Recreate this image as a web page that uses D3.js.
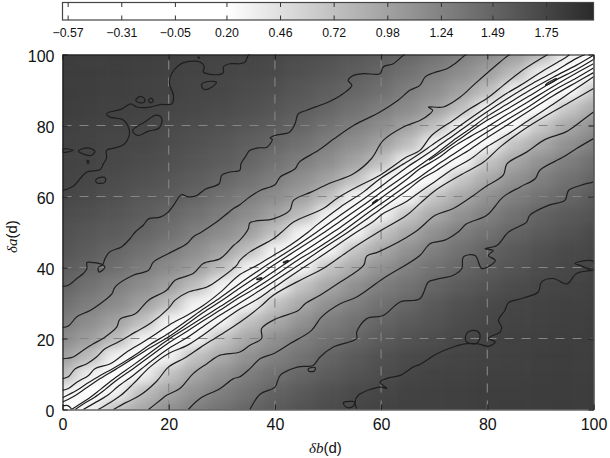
<!DOCTYPE html>
<html>
<head>
<meta charset="utf-8">
<script src="https://cdn.jsdelivr.net/npm/d3@7"></script>
<style>
  html, body { margin: 0; padding: 0; background: #fff; }
  svg { display: block; }
  text { font-family: "Liberation Sans", sans-serif; fill: #111; }
</style>
</head>
<body>
<svg width="610" height="458"></svg>
<script>
// -------------------------------------------------------------
// data
const gridB = [0,5,10,15,20,25,30,35,40,45,50,55,60,65,70,75,80,85,90,95,100];
const gridA = [0,5,10,15,20,25,30,35,40,45,50,55,60,65,70,75,80,85,90,95,100];

// one row per gridA value, one column per gridB value
const heatRows = [
  [-.40,.30,.72,.93,1.12,1.27,1.38,1.49,1.57,1.64,1.70,1.74,1.77,1.79,1.79,1.80,1.81,1.82,1.82,1.83,1.83],
  [.32,-.38,.30,.74,.95,1.13,1.27,1.38,1.50,1.58,1.65,1.71,1.75,1.78,1.79,1.80,1.81,1.81,1.82,1.82,1.83],
  [.78,.33,-.39,.30,.71,.94,1.11,1.28,1.39,1.48,1.56,1.63,1.69,1.74,1.77,1.78,1.80,1.80,1.81,1.82,1.82],
  [1.00,.76,.30,-.40,.30,.73,.92,1.12,1.26,1.37,1.49,1.58,1.65,1.71,1.74,1.76,1.78,1.79,1.81,1.82,1.82],
  [1.17,1.01,.77,.32,-.41,.28,.70,.94,1.13,1.27,1.39,1.47,1.57,1.64,1.69,1.74,1.77,1.79,1.80,1.81,1.82],
  [1.29,1.15,.99,.74,.30,-.42,.28,.72,.91,1.11,1.28,1.38,1.49,1.56,1.63,1.70,1.74,1.76,1.78,1.80,1.81],
  [1.40,1.28,1.17,1.00,.76,.31,-.44,.27,.70,.92,1.12,1.26,1.39,1.48,1.58,1.65,1.71,1.75,1.77,1.79,1.80],
  [1.50,1.38,1.27,1.15,.99,.74,.30,-.45,.27,.71,.93,1.13,1.28,1.37,1.49,1.57,1.64,1.70,1.74,1.76,1.79],
  [1.56,1.49,1.40,1.29,1.16,1.01,.75,.30,-.47,.27,.70,.92,1.11,1.26,1.38,1.48,1.56,1.63,1.70,1.74,1.76],
  [1.62,1.55,1.48,1.39,1.28,1.15,.98,.74,.29,-.46,.26,.69,.93,1.12,1.27,1.39,1.50,1.58,1.65,1.71,1.75],
  [1.66,1.60,1.56,1.49,1.40,1.27,1.16,1.00,.73,.29,-.48,.27,.70,.92,1.13,1.28,1.38,1.49,1.57,1.64,1.71],
  [1.70,1.66,1.61,1.55,1.48,1.39,1.28,1.15,.98,.75,.30,-.46,.28,.69,.93,1.11,1.26,1.39,1.50,1.58,1.64],
  [1.74,1.71,1.66,1.60,1.56,1.49,1.38,1.27,1.15,.99,.74,.29,-.47,.27,.70,.92,1.12,1.27,1.38,1.48,1.57],
  [1.76,1.74,1.70,1.65,1.61,1.55,1.48,1.39,1.27,1.14,.98,.73,.30,-.49,.26,.68,.91,1.11,1.26,1.38,1.49],
  [1.77,1.76,1.73,1.70,1.66,1.61,1.55,1.49,1.38,1.28,1.15,.97,.74,.30,-.47,.25,.69,.93,1.12,1.27,1.40],
  [1.78,1.77,1.75,1.74,1.70,1.65,1.60,1.54,1.48,1.39,1.27,1.14,.99,.75,.29,-.48,.25,.70,.91,1.11,1.26],
  [1.80,1.78,1.77,1.75,1.72,1.69,1.65,1.60,1.55,1.49,1.38,1.27,1.15,.98,.74,.30,-.46,.24,.68,.92,1.12],
  [1.81,1.80,1.78,1.77,1.75,1.73,1.70,1.66,1.61,1.55,1.48,1.39,1.28,1.16,1.00,.75,.32,-.44,.22,.66,.90],
  [1.82,1.81,1.80,1.78,1.77,1.75,1.74,1.70,1.66,1.60,1.54,1.48,1.40,1.28,1.15,.98,.76,.33,-.42,.20,.63],
  [1.82,1.82,1.81,1.80,1.78,1.77,1.75,1.74,1.71,1.66,1.61,1.55,1.49,1.38,1.27,1.15,1.00,.77,.34,-.40,.22],
  [1.83,1.82,1.82,1.81,1.80,1.78,1.77,1.76,1.74,1.70,1.66,1.60,1.55,1.48,1.38,1.27,1.16,1.01,.78,.36,-.38]
];

const barTicks  = [-0.57,-0.31,-0.05,0.20,0.46,0.72,0.98,1.24,1.49,1.75];
const axisTicks = [0,20,40,60,80,100];
const gridTicks = [20,40,60,80];

// contour traces as [b, a], upper side of the ridge first
const upper175 = [[0,61.7],[1.4,62.4],[2.4,63.4],[3.6,65.5],[4.6,66.9],[7.1,67.6],[7.7,69.2],[8.3,70.8],[8.3,73],[9.9,73.7],[11.5,74.6],[12.5,76.8],[12.5,79.1],[11.5,81.5],[8.9,82.4],[8.3,83.3],[8.9,83.8],[11.1,84.6],[12.8,86.1],[14,85.2],[16.5,85.2],[18.4,85.9],[20.6,86.1],[20.9,88.5],[20.2,91.3],[20.2,93.2],[21.2,96],[22.8,97.7],[25.9,97.9],[26.7,96.5],[26.5,95.1],[29,94.3],[30.3,94.9],[30.3,96.5],[31.5,97.4],[33.4,97.4],[34.4,97.9],[35,99.8],[35.3,100]];
const upper149 = [[0,34.7],[1.1,35],[2.7,36.9],[3.9,38.3],[4.6,39.7],[4.6,41.4],[5.8,41.4],[7.4,40.9],[8,40.1],[6.9,38.7],[6.7,39.9],[7.6,40.9],[8,42.5],[8.9,44.4],[11.1,45.8],[12.7,48.1],[13.7,50],[15.2,51.9],[16.2,53.7],[18.4,54.2],[19.9,55.6],[20.9,57.5],[22.4,60.5],[23.7,59.9],[25.3,60.3],[26.8,62],[29.5,63.6],[30,66],[31.5,66.9],[33.4,67.4],[33.6,69.2],[34.4,71.1],[35.3,73],[36.9,73.7],[38.5,73.9],[39.5,76.1],[39.1,76.5],[40,77.2],[42.8,78.2],[43.8,80.5],[44.4,83.3],[46,84.3],[48.5,85.7],[50.1,86.6],[52.9,89],[54.5,91.3],[53.8,92.7],[54.5,93.9],[56.7,94.6],[59.8,94.6],[60.4,96.5],[62.3,97.4],[64.2,99.8],[64.5,100]];
const upper124 = [[0,23.1],[1.1,23.5],[2.7,26.1],[5.2,27.9],[7.1,29.8],[9.3,32.6],[9.9,34.5],[13.3,37.8],[16.2,39.2],[17.1,41.5],[19.9,43.9],[23.4,46.7],[24.6,48.6],[26.2,50],[29,52.8],[30.6,54.7],[32.2,56.6],[33.4,57.7],[35.3,59.9],[37.2,61.7],[40,63.3],[41,65.5],[43.8,67.8],[44.6,69.7],[48.2,73],[51,76.1],[54.8,80],[59.8,83.8],[63.2,87.1],[65.4,89.9],[67.3,91.3],[68.3,93.7],[69.8,94.8],[72.4,96],[73.9,97.4],[75.8,99.8],[76.1,100]];
const upper098 = [[0,14.3],[2,14.8],[3.9,16.7],[5.8,18.5],[7.7,20.1],[10.2,23.2],[10.8,25.4],[13.7,27],[16.2,30.8],[19.6,33.6],[21.2,36.4],[24.6,38.3],[26.5,41.1],[29.7,42.5],[32.2,46.2],[33.4,47.7],[35,50.9],[35.3,52.6],[39.7,53.7],[42.8,56.1],[43.5,58.9],[46.9,61.3],[50.1,63.6],[54.8,66.4],[58.2,70.7],[60.4,75.8],[64.2,79.6],[67.3,81.4],[69.2,83.3],[69.7,84.3],[68.9,85.2],[71.7,85.2],[74.9,88],[77.7,91.8],[82.4,97.9],[84,99.8],[84.3,100]];
const upper072 = [[0,8.7],[1.1,9.2],[2.4,11.5],[4.6,12.9],[6.4,14.8],[8,17.1],[10.5,19],[13.7,21.8],[16.5,24.2],[19.9,28.4],[21.2,30.8],[23.7,33.1],[27.2,34.5],[29.7,36.9],[32.8,40.6],[33.4,42],[35.3,44.4],[39.7,48.1],[41.3,50],[43.5,52.8],[49.1,56.6],[51.6,59.4],[54.8,62.2],[59.8,66],[64.8,71.1],[67.3,73],[69.5,77.2],[73.6,81.5],[76.7,84.7],[79.9,87.6],[83,91.3],[86.2,95.1],[90.6,99.3],[91.4,100]];
const upper046 = [[0,5.4],[1.1,5.9],[2.7,7.7],[4.9,9.6],[6.1,11.5],[9,12.9],[12.1,16.2],[15.2,19],[17.7,21.4],[20.2,23.9],[23.4,26.5],[26.5,29.3],[29.7,33],[33.4,38],[36.6,40.6],[39.7,43.4],[42.8,46.2],[46.3,50],[47.9,52],[52.3,57],[56.7,61.3],[59.8,65],[64.8,69.7],[67.3,72.1],[69.5,74.4],[73.6,78.6],[76.7,81.9],[79.9,85.2],[83.6,89],[86.2,91.3],[90.6,95.5],[94.9,99.3],[95.5,100]];
const upper020 = [[0,3.3],[2.7,5.4],[4.6,7.3],[7.1,9.6],[9.6,11.6],[13.3,15],[16.5,18.3],[20,21.5],[23.4,25],[26.5,28.3],[29.7,31.5],[33.4,35.5],[36.6,38.8],[39.7,41.9],[44.2,46.2],[47.9,50],[52.3,54.7],[56.7,59.3],[60.4,63.3],[64.8,68.2],[67.3,70.65],[70.5,73.9],[73.6,77.2],[76.7,80.5],[79.9,83.8],[83.6,87.4],[88,91.4],[92.4,95],[96.8,98.9],[98.4,100]];
const upperM05 = [[0,2.1],[2,3.6],[4.6,6.2],[7.1,8.7],[10,11.3],[13.3,14.4],[16.5,17.4],[20,20.5],[23.4,24],[26.5,27.3],[29.7,30.4],[33.4,34.2],[36.6,37.4],[39.7,40.6],[44.2,45],[49.4,50],[52.3,53],[56.7,57.6],[60.4,61.6],[64.8,66.2],[67.3,68.8],[70.5,72.2],[73.6,75.8],[76.7,79],[79.9,82.5],[83.6,85.9],[88,89.9],[92.4,93.6],[96.8,97],[100,99.8]];
const cornerM31 = [[0,1],[1,1.1],[1.5,0.5],[1.7,0]];
const upperM31 = [[69,70.2],[72,73.2],[76.7,78.2],[79.9,81.4],[83.6,84.5],[88,88.4],[92.4,92.4],[96.8,95.8],[100,98.6]];

const lowerM05 = [[1.7,0],[3,1.3],[5,3.2],[7.1,5.6],[10,9],[13.3,12.5],[16.5,16],[20,19.8],[23.4,23],[26.5,26],[29.7,29],[33.4,32.6],[36.6,35.7],[39.7,38.8],[44.2,43.3],[51,50],[52.3,51.3],[56.7,56],[60.4,60],[64.8,64.8],[67.3,67.8],[70.5,70.6],[73.6,74],[76.7,76.8],[79.9,79.5],[83.6,83],[88,87],[92.4,91],[96.8,94.8],[100,97.4]];
const lower020 = [[2.4,0],[4,1.6],[6,3.4],[8,5.6],[10,8],[13.3,11.5],[16.5,15],[20,18.8],[23.4,22],[26.5,25],[29.7,28],[33.4,31.6],[36.6,34.4],[39.7,37.4],[44.2,42],[47,44.5],[52.6,50],[56.7,54.5],[60.4,58.4],[64.8,63],[67.3,65.5],[70.5,68.9],[73.6,71.9],[76.7,75],[79.9,78.1],[83.6,81.5],[88,85.5],[92.4,89.8],[96.8,93.4],[100,96.2]];
const lower046 = [[3.9,0],[6,1.8],[8.5,4],[10.4,6.4],[13.3,9.6],[16.5,13.4],[20,17.2],[23.4,20.2],[26.5,23.4],[29.7,26.6],[33.4,30],[36.6,33],[39.7,36],[44.2,40.4],[48,44.3],[53.8,50],[56.7,53],[60.4,57],[64.8,61.6],[67.3,64.6],[70.5,67.4],[73.6,70.4],[76.7,73.2],[79.9,76.5],[83.6,80],[88,84.2],[92.4,88.4],[96.8,92.2],[100,94.9]];
const lower072 = [[6.7,0],[9,2],[11,4],[13.3,7.2],[16.5,12],[20,15.8],[23.4,18],[26.5,21],[29.7,24.5],[33.4,28.3],[36.6,31],[39.7,34.2],[44.2,38.8],[48,42.5],[55.4,50],[58.2,52.6],[60.4,55.2],[64.8,58.6],[67.3,61.3],[70.5,64.6],[73.6,67.8],[76.7,70.4],[79.9,74],[83.6,77.3],[88,81.7],[92.4,86],[96.8,90.5],[100,93.7]];
const lower098 = [[9.6,0],[12,2],[14.6,4],[17.7,7.9],[20,12],[23,14.5],[26,17.5],[29.7,21],[33.4,24.6],[37.2,28.9],[39.7,32.2],[45.4,36.9],[49.1,39.7],[54.5,45.3],[59.5,50],[64.8,54.7],[67.3,58],[70.2,61.7],[74.9,66],[79.3,69.7],[82.4,73.9],[86.2,78.2],[91.2,82.9],[95.6,86.6],[100,90.4]];
const lower124 = [[16.2,0],[18.4,2.6],[19.6,4],[22.1,5.9],[24.6,10.1],[27.2,12.9],[29.7,15.3],[33.4,16.2],[35.3,18.1],[37.5,20],[37.5,22.8],[40,25.4],[44.4,27.9],[45.7,29.8],[48.5,32.2],[52.3,35.9],[56.7,40.6],[57.3,43.2],[59.5,44.4],[66.4,50],[70.2,54.7],[73.6,56.6],[77.4,60.3],[79.6,62.7],[83,66],[83.7,69.2],[87.4,72.5],[90.9,76.1],[94,77.7],[95.3,78.6],[97.5,81],[100,83.8]];
const lower149 = [[23.7,0],[25.9,3.1],[29.7,5.9],[32.2,8.7],[33.4,9.2],[35.3,11.5],[37.2,14.3],[39.7,15.7],[42.8,18.5],[46.9,22.3],[48.8,26.1],[52.3,29.8],[55.4,31.7],[60.4,36.9],[67.3,43.4],[69.2,46.7],[72,47.7],[74.5,50],[76.1,52.3],[79.9,54.7],[83,59.9],[86.2,62.7],[89,65],[89.9,67.4],[94.3,71.1],[96.8,73.5],[100,76.3]];
const lower175a = [[35.3,0],[37.2,4.3],[40,6.3],[41,9.6],[44.4,12],[47.2,12.4],[48.5,14.8],[51,17.6],[55.4,20],[55.4,21.8],[57.3,25.6],[60.4,26.5],[63.6,30.3],[67.3,31.2],[68.9,35.9],[70.2,36.6],[73.6,37.8],[75.2,39.7],[75.5,43],[77.7,43.4],[79,39.7],[81.5,42],[80.2,43.4],[81.1,44.8],[79.6,45.3],[81.8,46.2],[84,50],[87.4,52.8],[88,54.7],[91.5,57.5],[94.6,58.9],[95.3,61.7],[97.5,63.1],[100,64.1]];
const lower175b = [[55.4,0.2],[55.1,2.1],[55.7,4],[59.8,6.3],[61.1,5.9],[59.8,7.7],[61.4,8.9],[63.6,9.6],[66.1,12],[67.3,12.7],[70.5,15.7],[73.6,17.6],[75.8,18.5],[78.3,18.5],[80.2,17.8],[81.5,19],[80.2,20.1],[82.4,21.8],[82.7,23.2],[82.1,25.1],[83.3,27.9],[84,30.1],[86.8,31.4],[89.6,33.1],[90.2,35.9],[92.4,36.9],[95,35.4],[96.8,38.3],[100,39.2]];

const openLines = [upper175,upper149,upper124,upper098,upper072,upper046,upper020,upperM05,cornerM31,upperM31,
                   lowerM05,lower020,lower046,lower072,lower098,lower124,lower149,lower175a,lower175b];

// small closed contours
const loops = [
  [[13.8,87.1],[14.6,88.2],[15.4,87.6],[15.4,86.6],[14.6,86.4]],
  [[16.2,87.1],[16.7,87.7],[17.1,86.9],[16.6,86.4]],
  [[13.2,78.6],[15.5,81],[17.7,82.9],[18.7,81.9],[18.2,79.3],[16.2,78.4],[14.1,77.2]],
  [[3,72.8],[4.6,73.7],[6.1,72.8],[5.5,71.6],[4.2,71.8]],
  [[0,73.4],[2,73],[0,72.5]],
  [[4.6,70.2],[5,69.9],[4.8,69.2]],
  [[6.3,64.8],[7.1,65.4],[8.1,65.2],[7.9,63.9],[6.4,63.9]],
  [[26.2,91.6],[27.5,92.4],[29,92.2],[28.1,90.8],[26.6,90.2]],
  [[25.5,99.2],[25.8,99.2],[25.7,98.9]],
  [[46.3,11.5],[47.6,11.8],[47.4,10.8],[46.4,10.8]],
  [[52.9,1.9],[55.1,2.1],[54.5,0.7],[53.4,0.7]],
  [[76,19.2],[76.1,21.4],[77.4,22.3],[78.5,21.6],[78.5,19.5],[77.7,18.5]],
  [[96.5,41.1],[97.5,41.7],[100,41.7],[100,39.2],[97.5,40.6]],
  [[36.6,36.6],[37.5,36.9],[37.5,37.1],[36.6,36.8]],
  [[41.6,41.3],[42.5,41.8],[42.5,42],[41.6,41.5]],
  [[58.4,58],[59.3,58.9],[59.3,59.1],[58.4,58.2]],
  [[91,91.3],[93,93],[93,93.2],[91,91.5]]
];

// -------------------------------------------------------------
const plot = { left: 62.5, right: 593.5, top: 54.5, bottom: 409.5 };
const bar  = { top: 2.5, bottom: 20 };
const svg  = d3.select('svg');

const x = d3.scaleLinear().domain([0, 100]).range([plot.left, plot.right]);
const y = d3.scaleLinear().domain([0, 100]).range([plot.bottom, plot.top]);
const barX = d3.scaleLinear().domain([-0.595, 1.98]).range([plot.left, plot.right]);
const gray = d3.scaleLinear().domain([0.2, 1.98]).range(['#ffffff', '#2a2a2a']).clamp(true);

const defs = svg.append('defs');
defs.append('clipPath').attr('id', 'plot-clip').append('rect')
  .attr('x', plot.left).attr('y', plot.top)
  .attr('width', plot.right - plot.left).attr('height', plot.bottom - plot.top);

defs.append('filter').attr('id', 'smooth')
  .attr('filterUnits', 'userSpaceOnUse')
  .attr('x', 0).attr('y', 0).attr('width', 680).attr('height', 520)
  .attr('color-interpolation-filters', 'sRGB')
  .append('feGaussianBlur').attr('stdDeviation', '8 5.5');

const barGrad = defs.append('linearGradient').attr('id', 'bar-grad');
barGrad.append('stop').attr('offset', (0.2 + 0.595) / (1.98 + 0.595)).attr('stop-color', gray(0.2));
barGrad.append('stop').attr('offset', 1).attr('stop-color', gray(1.98));

drawHeat();
drawGrid();
drawContours();
drawAxes();
drawColorbar();
drawLabels();

// -------------------------------------------------------------
function drawHeat() {
  const stepX = x(5) - x(0);
  const stepY = y(0) - y(5);
  const pad = 40; // outer cells run on past the frame so the blur has no edge

  const cells = [];
  heatRows.forEach((row, i) => row.forEach((v, j) => cells.push({ i, j, v })));

  svg.append('g').attr('clip-path', 'url(#plot-clip)')
    .append('g').attr('filter', 'url(#smooth)')
    .selectAll('rect').data(cells).enter().append('rect')
    .attr('x', d => x(gridB[d.j]) - stepX / 2 - (d.j === 0 ? pad : 0))
    .attr('y', d => y(gridA[d.i]) - stepY / 2 - (d.i === gridA.length - 1 ? pad : 0))
    .attr('width', d => stepX + 0.5 + (d.j === 0 || d.j === gridB.length - 1 ? pad : 0))
    .attr('height', d => stepY + 0.5 + (d.i === 0 || d.i === gridA.length - 1 ? pad : 0))
    .attr('fill', d => gray(d.v));
}

// -------------------------------------------------------------
function drawGrid() {
  const g = svg.append('g')
    .attr('stroke', '#858585').attr('stroke-width', 1.1)
    .attr('stroke-dasharray', '9 8').attr('fill', 'none');

  g.selectAll('.gv').data(gridTicks).enter().append('line').attr('class', 'gv')
    .attr('x1', d => x(d)).attr('x2', d => x(d))
    .attr('y1', plot.bottom).attr('y2', plot.top);

  g.selectAll('.gh').data(gridTicks).enter().append('line').attr('class', 'gh')
    .attr('y1', d => y(d)).attr('y2', d => y(d))
    .attr('x1', plot.left).attr('x2', plot.right);
}

// -------------------------------------------------------------
function drawContours() {
  const line = d3.line().x(d => x(d[0])).y(d => y(d[1])).curve(d3.curveCatmullRom.alpha(0.5));
  const loop = d3.line().x(d => x(d[0])).y(d => y(d[1])).curve(d3.curveCatmullRomClosed.alpha(0.5));

  const g = svg.append('g').attr('clip-path', 'url(#plot-clip)')
    .attr('fill', 'none').attr('stroke', '#1e1e1e').attr('stroke-width', 1.2);

  g.selectAll('.open').data(openLines).enter().append('path').attr('class', 'open').attr('d', line);
  g.selectAll('.loop').data(loops).enter().append('path').attr('class', 'loop').attr('d', loop);
}

// -------------------------------------------------------------
function styleAxis(g) {
  g.select('.domain').attr('stroke', '#1a1a1a').attr('stroke-width', 1.2);
  g.selectAll('.tick line').attr('stroke', '#1a1a1a').attr('stroke-width', 1);
  g.selectAll('.tick text').attr('fill', '#111');
}

function drawAxes() {
  const bottom = d3.axisBottom(x).tickValues(axisTicks).tickSize(-5).tickSizeOuter(0).tickPadding(9);
  const left   = d3.axisLeft(y).tickValues(axisTicks).tickSize(-5).tickSizeOuter(0).tickPadding(8);
  const top    = d3.axisTop(x).tickValues(axisTicks).tickSize(-5).tickSizeOuter(0).tickFormat('');
  const right  = d3.axisRight(y).tickValues(axisTicks).tickSize(-5).tickSizeOuter(0).tickFormat('');

  svg.append('g').attr('transform', `translate(0,${plot.bottom})`).call(bottom).call(styleAxis)
    .attr('font-size', 16).attr('font-family', '"Liberation Sans", sans-serif');
  const l = svg.append('g').attr('transform', `translate(${plot.left},0)`).call(left).call(styleAxis)
    .attr('font-size', 16).attr('font-family', '"Liberation Sans", sans-serif');
  l.selectAll('.tick text').attr('dy', '0.44em');
  svg.append('g').attr('transform', `translate(0,${plot.top})`).call(top).call(styleAxis);
  svg.append('g').attr('transform', `translate(${plot.right},0)`).call(right).call(styleAxis);
}

// -------------------------------------------------------------
function drawColorbar() {
  svg.append('rect')
    .attr('x', plot.left).attr('y', bar.top)
    .attr('width', plot.right - plot.left).attr('height', bar.bottom - bar.top)
    .attr('fill', 'url(#bar-grad)').attr('stroke', '#444').attr('stroke-width', 1.2);

  const top = d3.axisTop(barX).tickValues(barTicks).tickSize(-4.5).tickSizeOuter(0).tickFormat('');
  const low = d3.axisBottom(barX).tickValues(barTicks).tickSize(-4.5).tickSizeOuter(0)
    .tickFormat(d3.format('.2f')).tickPadding(8);

  const gt = svg.append('g').attr('transform', `translate(0,${bar.top})`).call(top);
  const gb = svg.append('g').attr('transform', `translate(0,${bar.bottom})`).call(low)
    .attr('font-size', 12.3).attr('font-family', '"Liberation Sans", sans-serif');
  [gt, gb].forEach(g => {
    g.select('.domain').remove();
    g.selectAll('.tick line').attr('stroke', '#333');
  });
  gb.selectAll('.tick text').attr('fill', '#111');
}

// -------------------------------------------------------------
function drawLabels() {
  const bLabel = svg.append('text').attr('x', 309).attr('y', 453).attr('font-size', 15);
  bLabel.append('tspan').attr('font-family', '"Liberation Serif", serif').attr('font-style', 'italic').text('δb');
  bLabel.append('tspan').text('(d)');

  const aLabel = svg.append('text').attr('transform', 'translate(17,253) rotate(-90)').attr('font-size', 15);
  aLabel.append('tspan').attr('font-family', '"Liberation Serif", serif').attr('font-style', 'italic').text('δa');
  aLabel.append('tspan').text('(d)');
}
</script>
</body>
</html>
